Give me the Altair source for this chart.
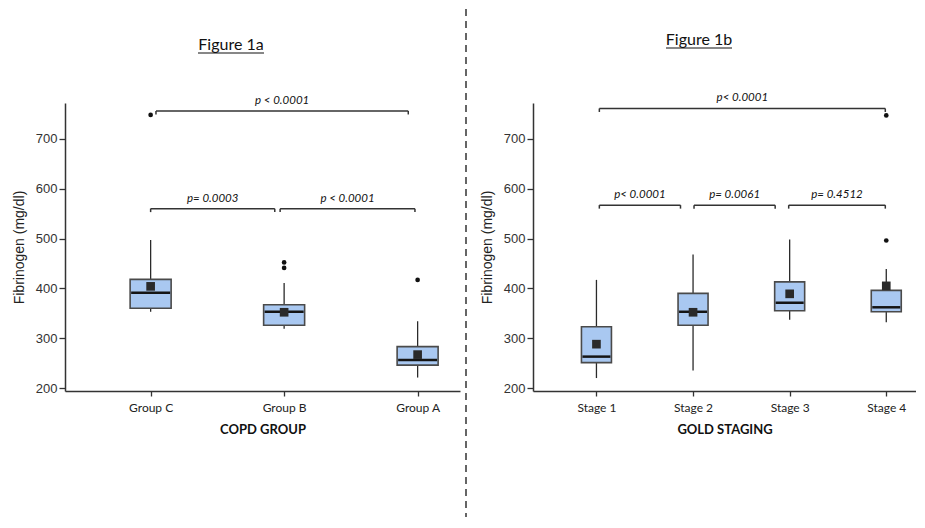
import altair as alt
import pandas as pd

# ---------------- data ----------------
left_groups = ["Group C", "Group B", "Group A"]
left_q1 = [360, 326, 246]
left_median = [391, 353, 256]
left_q3 = [418, 367, 283]
left_mean = [404, 352, 267]
left_whisker_lo = [353, 319, 221]
left_whisker_hi = [497, 411, 334]
left_outlier_groups = ["Group C", "Group B", "Group B", "Group A"]
left_outlier_values = [748, 452, 441, 417]
left_br_start = [1.04, 1.00, 1.97]
left_br_end = [2.93, 1.93, 2.98]
left_br_level = [756, 560, 560]
left_br_label = ["p < 0.0001", "p= 0.0003", "p < 0.0001"]

right_groups = ["Stage 1", "Stage 2", "Stage 3", "Stage 4"]
right_q1 = [251, 326, 355, 353]
right_median = [263, 353, 371, 362]
right_q3 = [323, 390, 413, 396]
right_mean = [288, 352, 389, 405]
right_whisker_lo = [220, 235, 337, 332]
right_whisker_hi = [417, 468, 498, 439]
right_outlier_groups = ["Stage 4", "Stage 4"]
right_outlier_values = [496, 747]
right_br_start = [1.03, 1.03, 2.01, 2.99]
right_br_end = [3.99, 1.87, 2.85, 3.99]
right_br_level = [761, 567, 567, 567]
right_br_label = ["p< 0.0001", "p< 0.0001", "p= 0.0061", "p= 0.4512"]

Y_DOMAIN = [194, 772]
Y_TICKS = [200, 300, 400, 500, 600, 700]

FILL = "#a9c8f1"
EDGE = "#4a4a4a"
DARK = "#2a2a2a"


def panel(groups, q1, med, q3, mean, lo, hi, og, ov, bs, be, bl, blab,
          xdomain, width, box_w, title, title_y, xtitle, divider=False):
    pos = list(range(1, len(groups) + 1))
    boxes = pd.DataFrame({"pos": pos, "g": groups, "q1": q1, "med": med,
                          "q3": q3, "mean": mean, "lo": lo, "hi": hi})
    outl = pd.DataFrame({"pos": [groups.index(g) + 1 for g in og], "v": ov})
    br = pd.DataFrame({"x1": bs, "x2": be, "lvl": bl, "lab": blab})
    br["xm"] = (br["x1"] + br["x2"]) / 2
    br["end"] = br["lvl"] - 7
    ends = pd.concat([
        pd.DataFrame({"x": br["x1"], "lvl": br["lvl"], "end": br["end"]}),
        pd.DataFrame({"x": br["x2"], "lvl": br["lvl"], "end": br["end"]}),
    ])

    lab_expr = "[''," + ",".join("'%s'" % g for g in groups) + "][datum.value]"
    xs = alt.Scale(domain=xdomain, nice=False, zero=False)
    ys = alt.Scale(domain=Y_DOMAIN, nice=False, zero=False)
    xax = alt.Axis(values=pos, labelExpr=lab_expr, title=xtitle, grid=False,
                   labelFont="Lato", labelFontSize=12, labelColor="#222",
                   labelPadding=6, tickSize=5, titleFont="Lato",
                   titleFontSize=13, titleFontWeight="bold", titleColor="#111",
                   titlePadding=10)
    yax = alt.Axis(values=Y_TICKS, title="Fibrinogen (mg/dl)", grid=False,
                   labelFont="Liberation Sans", labelFontSize=13,
                   labelColor="#333", labelPadding=2, tickSize=6,
                   titleFont="Liberation Sans", titleFontSize=14,
                   titleFontWeight="normal", titleColor="#222", titlePadding=9)

    base = alt.Chart(boxes)
    whisk = base.mark_rule(color=DARK, strokeWidth=1.3).encode(
        x=alt.X("pos:Q", scale=xs, axis=xax),
        y=alt.Y("lo:Q", scale=ys, axis=yax), y2="hi:Q")
    box = base.mark_bar(orient="vertical", size=box_w, fill=FILL, stroke=EDGE,
                        strokeWidth=1.6).encode(x="pos:Q", y="q1:Q", y2="q3:Q")
    median = base.mark_tick(orient="horizontal", size=box_w - 2, thickness=2.5,
                            color="#151515", opacity=1).encode(x="pos:Q", y="med:Q")
    mn = base.mark_square(size=75, color=DARK, opacity=1, filled=True).encode(
        x="pos:Q", y="mean:Q")
    outs = alt.Chart(outl).mark_circle(size=22, color="#111", opacity=1).encode(
        x="pos:Q", y="v:Q")
    brl = alt.Chart(br).mark_rule(color="#333", strokeWidth=1.5).encode(
        x="x1:Q", x2="x2:Q", y="lvl:Q")
    bre = alt.Chart(ends).mark_rule(color="#333", strokeWidth=1.5).encode(
        x="x:Q", y="lvl:Q", y2="end:Q")
    brt = alt.Chart(br).mark_text(font="Lato", fontSize=11.5, fontStyle="italic",
                                  color="#111", baseline="bottom", dy=-5).encode(
        x="xm:Q", y="lvl:Q", text="lab:N")
    tdf = pd.DataFrame({"t": [title]})
    ttl = alt.Chart(tdf).mark_text(font="Lato", fontSize=16, color="#111",
                                   baseline="alphabetic", align="center").encode(
        text="t:N", x=alt.value(166), y=alt.value(title_y))
    und = alt.Chart(tdf).mark_rule(color="#111", strokeWidth=1.2).encode(
        x=alt.value(133), x2=alt.value(199), y=alt.value(title_y + 3))
    layers = [whisk, box, median, mn, outs, brl, bre, brt, ttl, und]
    if divider:
        div = alt.Chart(tdf).mark_rule(color="#333", strokeWidth=1.5,
                                       strokeDash=[7, 5]).encode(
            x=alt.value(width + 6), y=alt.value(-94), y2=alt.value(414))
        layers.append(div)
    return alt.layer(*layers).properties(width=width, height=288)


left = panel(left_groups, left_q1, left_median, left_q3, left_mean,
             left_whisker_lo, left_whisker_hi, left_outlier_groups,
             left_outlier_values, left_br_start, left_br_end, left_br_level,
             left_br_label, [0.396, 3.28], 395, 41, "Figure 1a", -53,
             "COPD GROUP", divider=True)
right = panel(right_groups, right_q1, right_median, right_q3, right_mean,
              right_whisker_lo, right_whisker_hi, right_outlier_groups,
              right_outlier_values, right_br_start, right_br_end,
              right_br_level, right_br_label, [0.395, 4.256], 383, 30,
              "Figure 1b", -58, "GOLD STAGING")

chart = alt.hconcat(left, right, spacing=73, bounds="flush").properties(
    padding={"left": 4, "top": 0, "right": 0, "bottom": 0},
    background="white",
).configure_view(stroke=None).configure_axis(
    domainColor="#333", domainWidth=1.5, tickColor="#333", tickWidth=1.3)

chart.save("out.html", embed_options={"renderer": "svg", "actions": False})
